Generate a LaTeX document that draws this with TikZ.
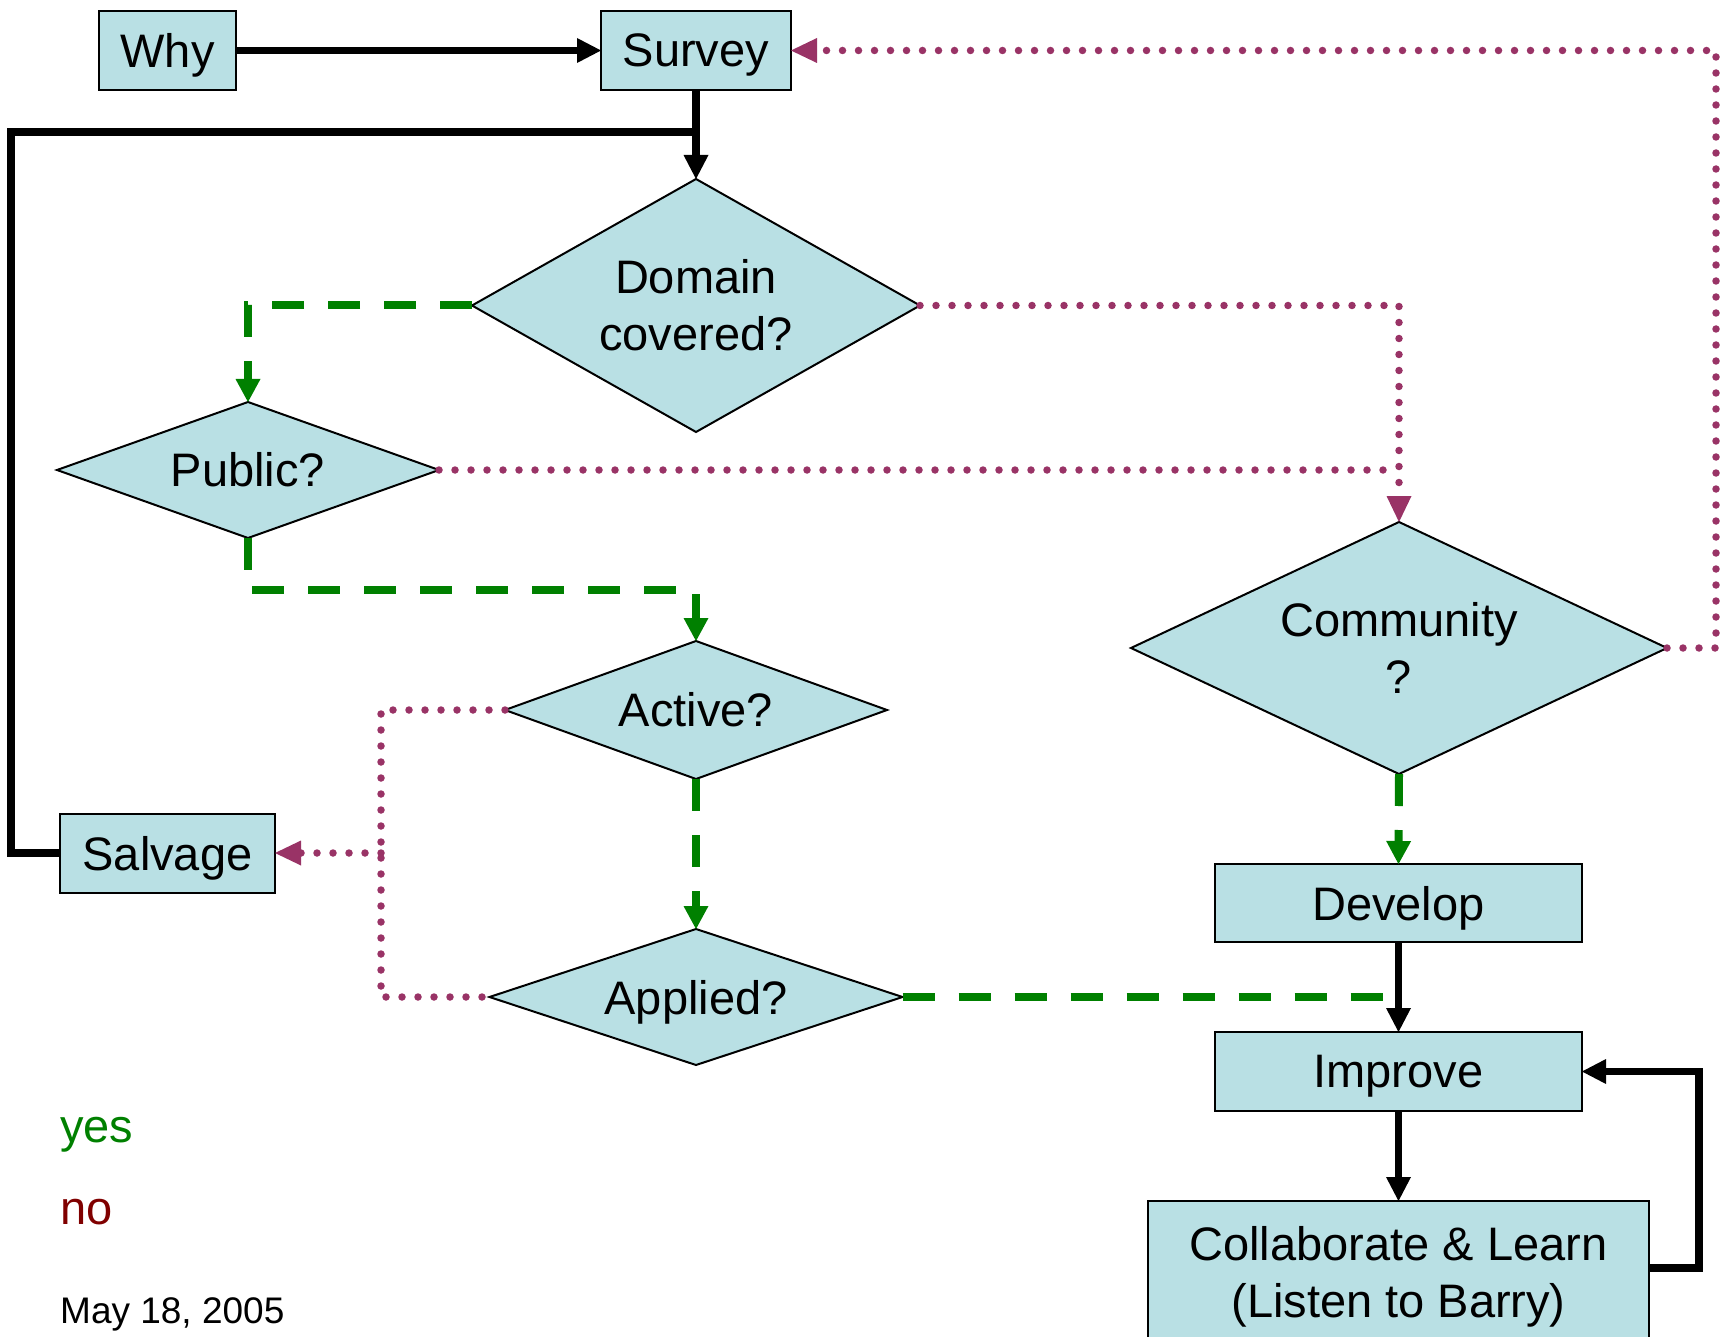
\documentclass[tikz,border=0pt]{standalone}
\usepackage{fontspec}
\setmainfont{Liberation Sans}
\usetikzlibrary{shapes.geometric,arrows.meta}
\definecolor{boxfill}{RGB}{185,224,228}
\definecolor{yesgreen}{RGB}{0,128,0}
\definecolor{nopath}{RGB}{153,51,102}
\definecolor{nored}{RGB}{128,0,0}
\begin{document}
\begin{tikzpicture}[x=1pt,y=-1pt,
  lbl/.style={font=\fontsize{47}{57}\selectfont, align=center, text=black},
  stepbox/.style={lbl, rectangle, draw=black, line width=2pt, fill=boxfill, inner sep=0pt, outer sep=0pt, text depth=0pt},
  decision/.style={lbl, diamond, draw=black, line width=2pt, fill=boxfill, inner sep=0pt, outer sep=0pt},
  flow/.style={draw=black, line width=7.5pt},
  flowarrow/.style={flow, -{Triangle[length=24pt,width=25pt,line width=0pt]}},
  yespath/.style={draw=yesgreen, line width=8pt, dash pattern=on 32pt off 24pt},
  yesarrow/.style={yespath, -{Triangle[length=23pt,width=25pt,line width=0pt]}},
  nopathline/.style={draw=nopath, line width=7.5pt, line cap=round, dash pattern=on 0pt off 16pt},
  noarrow/.style={nopathline, -{Triangle[length=26pt,width=25pt,line width=0pt]}},
  legend/.style={anchor=base west, inner sep=0pt, font=\fontsize{47}{57}\selectfont}
]
\useasboundingbox (0,0) rectangle (1722,1337);

% process boxes
\node[stepbox, minimum width=137pt, minimum height=79pt] (why) at (167.5,50.5) {Why};
\node[stepbox, minimum width=190pt, minimum height=79pt] (sur) at (696,50.5) {Survey};
\node[stepbox, minimum width=215pt, minimum height=79pt] (salv) at (167.5,853) {Salvage};
\node[stepbox, minimum width=367pt, minimum height=78pt] (dev) at (1398.5,903) {Develop};
\node[stepbox, minimum width=367pt, minimum height=79pt] (imp) at (1398.5,1071.5) {Improve};
\node[stepbox, minimum width=501pt, minimum height=142pt] (col) at (1398.5,1272) {Collaborate \& Learn\\(Listen to Barry)};

% decisions
\node[decision, shape aspect=1.77, minimum width=448pt, minimum height=253pt] (dom) at (696,305.5) {Domain\\covered?};
\node[decision, shape aspect=2.81, minimum width=382pt, minimum height=136pt] (pub) at (248,470) {Public?};
\node[decision, shape aspect=2.13, minimum width=536pt, minimum height=252pt] (com) at (1399,648) {Community\\?};
\node[decision, shape aspect=2.77, minimum width=382pt, minimum height=138pt] (act) at (696,710) {Active?};
\node[decision, shape aspect=3.04, minimum width=413pt, minimum height=136pt, text depth=0pt] (app) at (696,997) {Applied?};

% routing points
\coordinate (lefttop) at (11,132);
\coordinate (salvbus) at (381,853);
\coordinate (rtop) at (1716,50.5);
\coordinate (rloop) at (1699,1268);
\coordinate (gmid) at (472,590);
\coordinate (gend) at (1384,997);

% solid flow
\draw[flowarrow] (why.east) -- (sur.west);
\draw[flowarrow] (sur.south) -- (dom.north);
\draw[flow] (salv.west) -| (lefttop) -- (lefttop -| sur.south);
\draw[flowarrow] (dev.south) -- (imp.north);
\draw[flowarrow] (imp.south) -- (col.north);
\draw[flowarrow] (col.east |- rloop) -| (rloop) |- (imp.east);

% yes branches
\draw[yesarrow] (dom.west) -| (pub.north);
\draw[yesarrow] (pub.south) -- (pub.south |- gmid) -| (act.north);
\draw[yesarrow] (act.south) -- (app.north);
\draw[yesarrow] (com.south) -- (dev.north);
\draw[yespath] (app.east) -- (gend);

% no branches
\draw[noarrow] (dom.east) -| (com.north);
\draw[nopathline] (pub.east) -- (pub.east -| com.north);
\draw[noarrow] (com.east) -| (rtop) -- (sur.east);
\draw[nopathline] (act.west) -| (salvbus) |- (app.west);
\draw[noarrow] (salvbus) -- (salv.east);

% legend and date
\node[legend, text=yesgreen] (yes) at (60,1142) {yes};
\node[legend, text=nored] (no) at (60,1224) {no};
\node[anchor=base west, inner sep=0pt, font=\fontsize{37}{44}\selectfont] (date) at (60,1323) {May 18, 2005};
\end{tikzpicture}
\end{document}
